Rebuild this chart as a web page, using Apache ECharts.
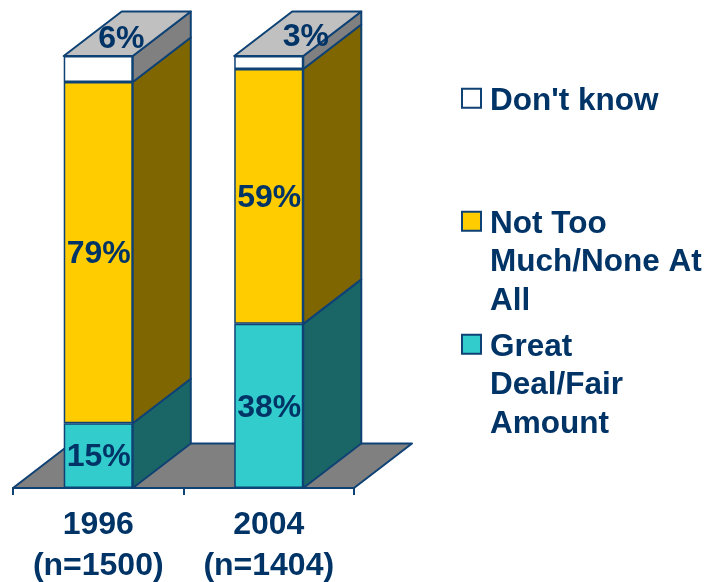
<!DOCTYPE html>
<html>
<head>
<meta charset="utf-8">
<style>html,body{margin:0;padding:0;background:#fff}#c{width:706px;height:582px}</style>
<script src="https://cdn.jsdelivr.net/npm/echarts@6/dist/echarts.min.js"></script>
</head>
<body>
<div id="c"></div>
<script>
const categories = ['1996\n(n=1500)', '2004\n(n=1404)'];
const seriesNames = ['Great Deal/Fair Amount', 'Not Too Much/None At All', "Don't know"];
const greatDeal = [15, 38];
const notTooMuch = [79, 59];
const dontKnow = [6, 3];
const legendLines = {
  "Don't know": "Don't know",
  'Not Too Much/None At All': '\n\nNot Too\nMuch/None At\nAll',
  'Great Deal/Fair Amount': '\n\nGreat\nDeal/Fair\nAmount'
};

const NAVY = '#003366', LINE = '#0f4274', FONT = '"Liberation Sans", Arial, sans-serif';
const FRONT = ['#33CCCC', '#FFCC00', '#FFFFFF'];
const SIDE = ['#1A6666', '#806600', '#808080'];
const TOPFACE = '#C0C0C0';
const DX = 58, DY = -44.5, BAR_RATIO = 0.405;
const stacks = [greatDeal, notTooMuch, dontKnow];

const depthRows = [];
categories.forEach((c, i) => {
  let base = 0;
  stacks.forEach((s, k) => {
    depthRows.push([i, base, base + s[i], k]);
    base += s[i];
  });
});

const lineStyle = { stroke: LINE, lineWidth: 2, lineJoin: 'round' };

function renderDepth(params, api) {
  const i = api.value(0), y0 = api.value(1), y1 = api.value(2), k = api.value(3);
  const w = api.size([1, 0])[0] * BAR_RATIO;
  const low = api.coord([i, y0]), high = api.coord([i, y1]);
  const xr = low[0] + w / 2, xl = low[0] - w / 2;
  const children = [{
    type: 'polygon',
    shape: { points: [[xr, low[1]], [xr + DX, low[1] + DY], [xr + DX, high[1] + DY], [xr, high[1]]] },
    style: Object.assign({ fill: SIDE[k] }, lineStyle)
  }];
  if (k === stacks.length - 1) {
    children.push({
      type: 'polygon',
      shape: { points: [[xl, high[1]], [xl + DX, high[1] + DY], [xr + DX, high[1] + DY], [xr, high[1]]] },
      style: Object.assign({ fill: TOPFACE }, lineStyle)
    });
  }
  return { type: 'group', children };
}

function renderFloor(params, api) {
  const cs = params.coordSys;
  const b = cs.y + cs.height, l = cs.x, r = cs.x + cs.width;
  return {
    type: 'polygon',
    shape: { points: [[l, b], [l + DX, b + DY], [r + DX, b + DY], [r, b]] },
    style: Object.assign({ fill: '#808080' }, lineStyle)
  };
}

const labelCfg = {
  show: true, position: 'inside',
  formatter: p => p.value + '%',
  color: NAVY, fontFamily: FONT, fontWeight: 'bold', fontSize: 32, offset: [0.5, 2]
};
const topOffsets = [[23, -30], [37, -25]];

const barSeries = stacks.map((s, k) => ({
  type: 'bar',
  name: seriesNames[k],
  stack: 'total',
  barWidth: '40.5%',
  z: 3,
  itemStyle: { color: FRONT[k], borderColor: LINE, borderWidth: 1.5 },
  label: labelCfg,
  data: s.map((v, i) => k === 2
    ? { value: v, label: Object.assign({}, labelCfg, { offset: topOffsets[i] }) }
    : v)
}));

function legendAt(name, top) {
  return {
    data: [name], orient: 'vertical', left: 461, top, padding: 0,
    itemWidth: 19, itemHeight: 25,
    icon: 'path://M0,0L19,0L19,19L0,19ZM0,25L0,25',
    selectedMode: false,
    formatter: n => legendLines[n],
    textStyle: { color: NAVY, fontFamily: FONT, fontWeight: 'bold', fontSize: 31.5, lineHeight: 38.5, padding: [0, 0, 0, 4] }
  };
}

const chart = echarts.init(document.getElementById('c'), null, { renderer: 'canvas' });
chart.setOption({
  animation: false,
  backgroundColor: '#fff',
  grid: { left: 13, top: 56, width: 341, height: 432, containLabel: false, outerBoundsMode: 'none' },
  legend: [
    legendAt("Don't know", 82),
    legendAt('Not Too Much/None At All', 128),
    legendAt('Great Deal/Fair Amount', 251)
  ],
  xAxis: {
    type: 'category', data: categories, boundaryGap: true,
    axisLine: { lineStyle: { color: LINE, width: 2 } },
    axisTick: { show: true, length: 7, alignWithLabel: false, lineStyle: { color: LINE, width: 2 } },
    axisLabel: { color: NAVY, fontFamily: FONT, fontWeight: 'bold', fontSize: 32, lineHeight: 41, margin: 17, interval: 0 }
  },
  yAxis: { type: 'value', min: 0, max: 100, show: false, splitLine: { show: false } },
  series: [
    { type: 'custom', name: 'floor', z: 1, silent: true, renderItem: renderFloor, data: [[0]], encode: { x: 0 } },
    { type: 'custom', name: 'depth', z: 2, silent: true, renderItem: renderDepth, data: depthRows, encode: { x: 0, y: [1, 2] } }
  ].concat(barSeries)
});
</script>
</body>
</html>
